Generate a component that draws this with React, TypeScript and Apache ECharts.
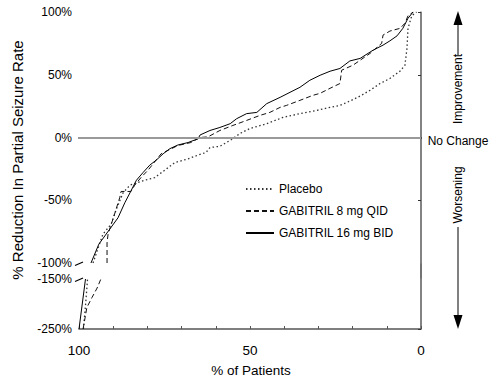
import React, { useEffect, useRef } from "react";
import * as echarts from "echarts";

const FONT = "'Liberation Sans', Arial, Helvetica, sans-serif";

const seriesNames = ["Placebo", "GABITRIL 8 mg QID", "GABITRIL 16 mg BID"];
const upperTicks = [100, 50, 0, -50];
const lowerLabels = [-250, -150];
const xLabelValues = [0, 50, 100];

// [% of patients, % reduction]
const placeboUpper = [
  [95.9, -100], [94.4, -88], [93, -77], [90.6, -69], [89.2, -58], [87.1, -44], [85.1, -38],
  [80.8, -34], [77.9, -32], [74.9, -26], [72, -20], [68.1, -17], [65.2, -14], [62.9, -12],
  [61.7, -8], [58.8, -7], [55.4, -1.6], [52.9, 3.2], [50, 7.2], [45.1, 11], [40.4, 16],
  [35.4, 19], [30.5, 21.6], [26.6, 24], [23.7, 25.6], [20.8, 29], [17.8, 33], [14.9, 37.6],
  [12, 43], [9.1, 47], [6.1, 53], [4.7, 57.6], [4.1, 71], [3.8, 87], [2.7, 97], [1.3, 100],
];
const qidUpper = [
  [91.8, -100], [91.8, -84], [91.5, -77], [89.6, -61], [88.1, -48], [87.7, -43], [84.8, -43],
  [83.7, -38], [81.9, -32], [79.8, -26], [76, -13], [71.1, -6.4], [67.3, -4], [64.6, 0],
  [62.3, 0.5], [58.8, 5.6], [55, 9.6], [51, 13.6], [47.1, 17.6], [44.2, 20], [41.2, 24],
  [39.3, 25.6], [35.4, 29.6], [31.6, 33.6], [29.5, 35.2], [26.6, 39.2], [23.7, 43],
  [23.2, 53.6], [19.9, 57.6], [14.9, 67], [11.5, 75], [11.1, 81.6], [9.1, 84.8], [6.1, 87],
  [4.7, 91], [3.8, 97], [2.3, 100],
];
const bidUpper = [
  [96.5, -100], [94.2, -85], [91, -73], [88.6, -64], [86.6, -52], [84.7, -42], [83.2, -34],
  [81.3, -28], [79.3, -22], [77.4, -18], [75.4, -13], [73.5, -9], [71.1, -6], [68.1, -4],
  [65.2, -1], [64.6, 2], [61.7, 5.6], [58.8, 8], [55.8, 11], [53.9, 15], [51, 19], [48, 20],
  [45.1, 27], [41.2, 32], [38.3, 36], [35.4, 40], [32.5, 45.6], [29.5, 49.6], [26.6, 52.8],
  [23.7, 55], [20.8, 61], [17.8, 63], [14, 69.6], [11.1, 73.6], [9.1, 77], [7, 81],
  [5.3, 87], [3.8, 95], [2.3, 100],
];
const placeboLower = [[98.7, -250], [98, -195], [97.5, -150]];
const qidLower = [[98.8, -250], [97.7, -207], [96.2, -187], [94.7, -168], [93.6, -150]];
const bidLower = [[100, -250], [98.1, -150]];

const styles = [
  { color: "#333", type: [1.5, 2.5] as number[], width: 1.3 },
  { color: "#111", type: [5, 3] as number[], width: 1 },
  { color: "#000", type: "solid", width: 1 },
];

export default function App() {
  const ref = useRef<HTMLDivElement>(null);
  useEffect(() => {
    if (!ref.current) return;
    const chart = echarts.init(ref.current, undefined, { renderer: "svg" });
    const mk = (name: string, data: number[][], idx: number, gi: number, extra: any = {}) => ({
      name,
      type: "line",
      xAxisIndex: gi,
      yAxisIndex: gi,
      data,
      symbol: "none",
      lineStyle: { ...styles[idx] },
      itemStyle: { color: styles[idx].color },
      silent: true,
      ...extra,
    });
    const option: any = {
      animation: false,
      backgroundColor: "#fff",
      textStyle: { fontFamily: FONT },
      grid: [
        { left: 79, top: 12, width: 342, height: 251 },
        { left: 79, top: 279, width: 342, height: 50 },
      ],
      legend: {
        orient: "vertical",
        left: 245,
        top: 183,
        padding: 0,
        itemWidth: 28,
        itemHeight: 12,
        itemGap: 10,
        data: seriesNames,
        itemStyle: { opacity: 0 },
        textStyle: { fontSize: 12, color: "#000", fontFamily: FONT },
      },
      xAxis: [
        {
          gridIndex: 0, type: "value", min: 0, max: 100, inverse: true, position: "top",
          axisLine: { show: true, lineStyle: { color: "#000", width: 1.5 } },
          axisTick: { show: false }, axisLabel: { show: false }, splitLine: { show: false },
        },
        {
          gridIndex: 1, type: "value", min: 0, max: 100, interval: 10, inverse: true,
          axisLine: { show: true, lineStyle: { color: "#555", width: 1.5 } },
          axisTick: { show: true, inside: true, length: 3, lineStyle: { color: "#555" } },
          axisLabel: {
            customValues: xLabelValues, margin: 14, fontSize: 13.5, color: "#000", fontFamily: FONT,
          },
          splitLine: { show: false },
        },
      ],
      yAxis: [
        {
          gridIndex: 0, type: "value", min: -100, max: 100, interval: 50,
          axisLine: { show: true, lineStyle: { color: "#888", width: 1.5 } },
          axisTick: { show: true, length: 3, customValues: upperTicks, lineStyle: { color: "#333" } },
          axisLabel: { formatter: "{value}%", fontSize: 12, color: "#000", margin: 7, fontFamily: FONT },
          splitLine: { show: false },
        },
        {
          gridIndex: 1, type: "value", min: -250, max: -150, interval: 50,
          axisLine: { show: true, lineStyle: { color: "#888", width: 1.5 } },
          axisTick: { show: true, length: 3, customValues: [-250], lineStyle: { color: "#333" } },
          axisLabel: {
            customValues: lowerLabels, formatter: "{value}%", fontSize: 12, color: "#000", margin: 7,
            fontFamily: FONT,
          },
          splitLine: { show: false },
        },
      ],
      series: [
        mk(seriesNames[0], placeboUpper, 0, 0, {
          markLine: {
            silent: true, symbol: "none", label: { show: false },
            lineStyle: { color: "#999", width: 2, type: "solid" },
            data: [{ yAxis: 0 }],
          },
        }),
        mk(seriesNames[1], qidUpper, 1, 0),
        mk(seriesNames[2], bidUpper, 2, 0),
        mk(seriesNames[0], placeboLower, 0, 1),
        mk(seriesNames[1], qidLower, 1, 1),
        mk(seriesNames[2], bidLower, 2, 1),
      ],
      graphic: [
        // right frame
        { type: "line", shape: { x1: 421, y1: 12, x2: 421, y2: 329 }, style: { stroke: "#444", lineWidth: 1.5 } },
        // axis break marks
        { type: "line", shape: { x1: 75, y1: 265.5, x2: 83, y2: 262 }, style: { stroke: "#000", lineWidth: 1.2 } },
        { type: "line", shape: { x1: 75, y1: 281.5, x2: 83, y2: 278 }, style: { stroke: "#000", lineWidth: 1.2 } },
        // axis titles
        {
          type: "text", x: 17, y: 160, rotation: Math.PI / 2,
          style: {
            text: "% Reduction In Partial Seizure Rate", font: `15px ${FONT}`, fill: "#000",
            textAlign: "center", textVerticalAlign: "middle", align: "center", verticalAlign: "middle",
          },
        },
        {
          type: "text", x: 251, y: 370,
          style: {
            text: "% of Patients", font: `13.5px ${FONT}`, fill: "#000",
            textAlign: "center", textVerticalAlign: "middle", align: "center", verticalAlign: "middle",
          },
        },
        // right annotations
        { type: "polygon", shape: { points: [[458, 11], [453.5, 25], [462.5, 25]] }, style: { fill: "#000" } },
        { type: "line", shape: { x1: 458, y1: 24, x2: 458, y2: 55 }, style: { stroke: "#000", lineWidth: 1 } },
        {
          type: "text", x: 458, y: 89, rotation: Math.PI / 2,
          style: {
            text: "Improvement", font: `12px ${FONT}`, fill: "#000",
            textAlign: "center", textVerticalAlign: "middle", align: "center", verticalAlign: "middle",
          },
        },
        {
          type: "text", x: 458, y: 141,
          style: {
            text: "No Change", font: `12px ${FONT}`, fill: "#000",
            textAlign: "center", textVerticalAlign: "middle", align: "center", verticalAlign: "middle",
          },
        },
        {
          type: "text", x: 458, y: 195, rotation: Math.PI / 2,
          style: {
            text: "Worsening", font: `12px ${FONT}`, fill: "#000",
            textAlign: "center", textVerticalAlign: "middle", align: "center", verticalAlign: "middle",
          },
        },
        { type: "line", shape: { x1: 458, y1: 227, x2: 458, y2: 316 }, style: { stroke: "#000", lineWidth: 1 } },
        { type: "polygon", shape: { points: [[458, 329], [453.5, 315], [462.5, 315]] }, style: { fill: "#000" } },
      ],
    };
    chart.setOption(option);
    return () => chart.dispose();
  }, []);
  return (
    <div
      ref={ref}
      style={{ position: "fixed", left: 0, top: 0, width: 495, height: 385, background: "#fff" }}
    />
  );
}
